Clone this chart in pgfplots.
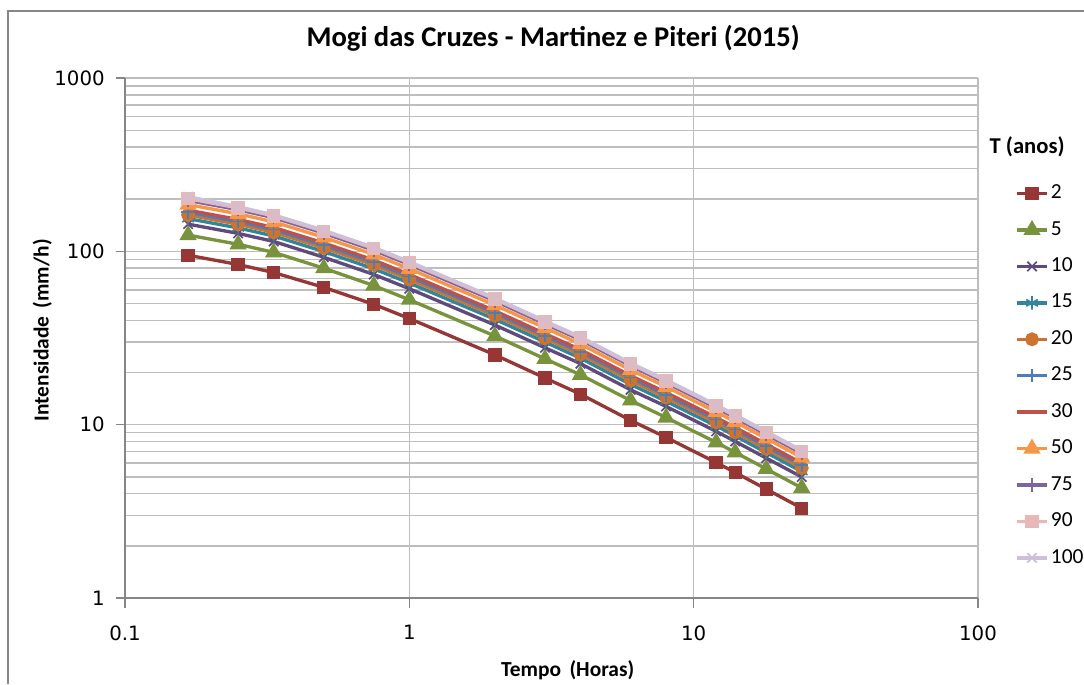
\documentclass[border=0pt]{standalone}
\usepackage{fontspec}
\setmainfont{Carlito}
\newfontfamily\tickfont{DejaVu Sans}
\usepackage{pgfplots}
\pgfplotsset{compat=1.18}

\definecolor{cT2}{RGB}{150,55,53}
\definecolor{cT5}{RGB}{119,147,60}
\definecolor{cT10}{RGB}{96,74,123}
\definecolor{cT15}{RGB}{49,133,156}
\definecolor{cT20}{RGB}{204,115,46}
\definecolor{cT25}{RGB}{74,126,187}
\definecolor{cT30}{RGB}{192,80,77}
\definecolor{cT50}{RGB}{247,150,70}
\definecolor{cT75}{RGB}{128,100,162}
\definecolor{cT90}{RGB}{230,185,184}
\definecolor{cT100}{RGB}{204,192,218}
\definecolor{gridc}{RGB}{190,190,190}
\definecolor{axc}{RGB}{134,134,134}

% duration (h) vs intensity (mm/h) for each return period
\pgfplotstableread{
t       T2     T5     T10    T15    T20    T25    T30    T50    T75    T90    T100
0.1667  95.0   124.2  143.6  154.5  162.2  168.1  172.9  186.2  196.8  201.5  207.0
0.25    84.0   109.9  127.0  136.6  143.4  148.6  152.8  164.7  174.0  178.2  181.0
0.3333  75.5   98.7   114.1  122.8  128.9  133.6  137.4  148.0  156.4  160.1  162.5
0.5     62.0   80.0   92.5   99.8   104.8  108.7  111.8  120.5  127.4  130.5  132.3
0.75    49.5   63.5   73.6   79.4   83.5   86.6   89.1   96.0   101.5  104.0  105.4
1       41.0   52.6   60.9   65.7   69.0   71.5   73.6   79.4   83.9   86.0   87.2
2       25.3   32.5   37.6   40.6   42.6   44.2   45.4   49.0   51.8   53.1   53.8
3       18.6   24.0   27.8   30.0   31.5   32.6   33.5   36.2   38.2   39.1   39.7
4       15.0   19.4   22.5   24.2   25.4   26.3   27.1   29.2   30.9   31.6   32.1
6       10.6   13.8   15.9   17.1   18.0   18.7   19.2   20.7   21.9   22.4   22.7
8       8.45   11.0   12.75  13.65  14.35  14.85  15.35  16.55  17.45  17.85  18.15
12      6.05   7.91   9.15   9.84   10.33  10.70  11.01  11.86  12.53  12.83  13.0
14      5.30   6.93   8.01   8.62   9.05   9.38   9.64   10.39  10.98  11.24  11.4
18      4.25   5.56   6.42   6.91   7.26   7.52   7.73   8.33   8.80   9.01   9.14
24      3.30   4.32   4.99   5.37   5.63   5.84   6.00   6.47   6.84   7.00   7.10
}\idf

\begin{document}
\begin{tikzpicture}
\useasboundingbox (0,0) rectangle (16cm,10.096cm);
\draw[axc, line width=0.6pt] (0.118cm,0) -- (0.118cm,9.934cm) -- (16cm,9.934cm);
\begin{axis}[
  at={(1.845cm,1.269cm)}, anchor=south west,
  scale only axis,
  width=12.59cm, height=7.675cm,
  xmode=log, ymode=log,
  xmin=0.1, xmax=100, ymin=1, ymax=1000,
  xtick={0.1,1,10,100}, xticklabels={0.1,1,10,100},
  ytick={1,10,100,1000}, yticklabels={1,10,100,1000},
  minor xtick={},
  minor ytick={2,3,4,5,6,7,8,9,20,30,40,50,60,70,80,90,200,300,400,500,600,700,800,900},
  xmajorgrids, ymajorgrids, yminorgrids,
  major grid style={gridc, line width=0.6pt},
  minor grid style={gridc, line width=0.6pt},
  axis lines=left,
  axis line style={axc, line width=0.6pt, -},
  tick style={axc, line width=0.6pt},
  tick align=outside,
  major tick length=4pt, minor tick length=0pt,
  /pgf/number format/assume math mode=true,
  tick label style={font=\tickfont\fontsize{8.3}{9}\selectfont, black},
  yticklabel style={xshift=-1pt},
  xticklabel style={yshift=-4pt},
  title={\textbf{Mogi das Cruzes - Martinez e Piteri (2015)}},
  title style={font=\fontsize{12}{14}\selectfont, at={(axis description cs:0.502,1.048)}, anchor=center},
  xlabel={\textbf{Tempo\, (Horas)}},
  xlabel style={font=\fontsize{9}{11}\selectfont, at={(axis description cs:0.519,-0.138)}, anchor=center},
  ylabel={\textbf{Intensidade\, (mm/h)}},
  ylabel style={font=\fontsize{9}{11}\selectfont, at={(axis description cs:-0.097,0.515)}, anchor=center, rotate=0},
  legend style={at={(axis description cs:1.035,0.823)}, anchor=north west, draw=none, fill=none,
    font=\fontsize{9}{10}\selectfont, row sep=0pt,
    nodes={inner sep=1pt, minimum height=15.3pt}},
  legend cell align=left,
  legend image code/.code={\draw[mark repeat=2,mark phase=2] plot coordinates {(0cm,0cm)(0.22cm,0cm)(0.44cm,0cm)};},
  every axis plot/.append style={line width=1.4pt},
  clip=false,
]
\addplot[cT2, mark=square*, mark size=2.1pt, mark options={solid}] table[x=t, y=T2] {\idf};
\addlegendentry{2}
\addplot[cT5, mark=triangle*, mark size=2.8pt, mark options={solid}] table[x=t, y=T5] {\idf};
\addlegendentry{5}
\addplot[cT10, mark=x, mark size=2.8pt, mark options={solid, line width=0.7pt}] table[x=t, y=T10] {\idf};
\addlegendentry{10}
\addplot[cT15, mark=asterisk, mark size=2.8pt, mark options={solid, line width=0.7pt}] table[x=t, y=T15] {\idf};
\addlegendentry{15}
\addplot[cT20, mark=*, mark size=2.2pt, mark options={solid}] table[x=t, y=T20] {\idf};
\addlegendentry{20}
\addplot[cT25, mark=+, mark size=2.8pt, mark options={solid, line width=0.7pt}] table[x=t, y=T25] {\idf};
\addlegendentry{25}
\addplot[cT30, no marks] table[x=t, y=T30] {\idf};
\addlegendentry{30}
\addplot[cT50, mark=triangle*, mark size=2.8pt, mark options={solid}] table[x=t, y=T50] {\idf};
\addlegendentry{50}
\addplot[cT75, mark=+, mark size=2.8pt, mark options={solid, line width=0.7pt}] table[x=t, y=T75] {\idf};
\addlegendentry{75}
\addplot[cT90, mark=square*, mark size=2.1pt, mark options={solid}] table[x=t, y=T90] {\idf};
\addlegendentry{90}
\addplot[cT100, mark=x, mark size=2.8pt, mark options={solid, line width=0.7pt}] table[x=t, y=T100] {\idf};
\addlegendentry{100}
\end{axis}
\node[font=\fontsize{9.5}{11}\selectfont\bfseries] at (15.16cm,7.926cm) {T (anos)};
\end{tikzpicture}
\end{document}
